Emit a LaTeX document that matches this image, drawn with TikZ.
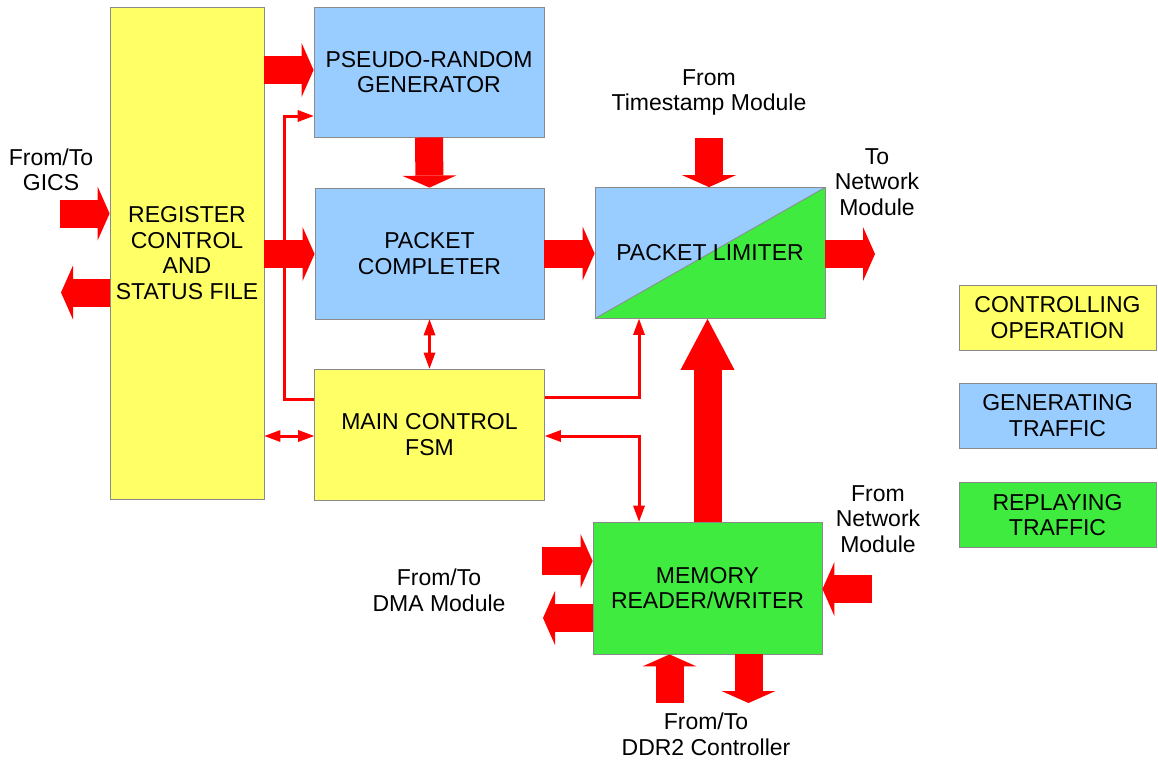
\documentclass[tikz,border=0pt]{standalone}
\usepackage{fontspec}
\setmainfont{Liberation Sans}
\usetikzlibrary{arrows.meta,calc}
\definecolor{ctlyellow}{HTML}{FFFF66}
\definecolor{genblue}{HTML}{99CCFF}
\definecolor{repgreen}{HTML}{3FEB3F}
\definecolor{boxedge}{HTML}{8A8A8A}
\definecolor{sigred}{HTML}{FF0000}

\begin{document}
\begin{tikzpicture}[x=1pt,y=-1pt,
  font=\fontsize{23}{25.5}\selectfont,
  block/.style={draw=boxedge, line width=0.8pt, align=center, inner sep=0pt},
  ctlblock/.style={block, fill=ctlyellow},
  genblock/.style={block, fill=genblue},
  repblock/.style={block, fill=repgreen},
  label/.style={align=center, inner sep=0pt},
  fat/.style={draw=sigred, line width=28pt,
    -{Triangle[length=12pt 0 0, width=54pt 0 0, line width=0pt]}},
  fatlong/.style={draw=sigred, line width=28pt,
    -{Triangle[length=51pt 0 0, width=54pt 0 0, line width=0pt]}},
  sig/.style={draw=sigred, line width=3pt},
  tipS/.tip={Triangle[length=16pt 0 0, width=12pt 0 0, line width=0pt]},
]
\useasboundingbox (0,0) rectangle (1158,760);

% functional blocks
\node[ctlblock, minimum width=154pt, minimum height=492pt] (reg) at (187,253)
  {REGISTER\\CONTROL\\AND\\STATUS FILE};
\node[genblock, minimum width=230pt, minimum height=130pt] (prg) at (429,72) {};
\node[label] at (429,72) {PSEUDO-RANDOM\\GENERATOR};
\node[genblock, minimum width=229pt, minimum height=131pt] (pc) at (429.5,253.5)
  {PACKET\\COMPLETER};
\node[ctlblock, minimum width=230pt, minimum height=131pt] (fsm) at (429.5,434.5)
  {MAIN CONTROL\\FSM};
\node[block, minimum width=230pt, minimum height=131pt,
  path picture={
    \fill[genblue] (path picture bounding box.south west) -- (path picture bounding box.north west)
      -- (path picture bounding box.north east) -- cycle;
    \fill[repgreen] (path picture bounding box.south west) -- (path picture bounding box.north east)
      -- (path picture bounding box.south east) -- cycle;
    \draw[boxedge, line width=0.8pt] (path picture bounding box.south west)
      -- (path picture bounding box.north east);
  }] (pl) at (710,253) {};
\node[label] at (710,253) {PACKET LIMITER};
\node[repblock, minimum width=229pt, minimum height=132pt] (mem) at (707.5,588)
  {MEMORY\\READER/WRITER};

% legend
\node[ctlblock, minimum width=197pt, minimum height=65pt] (lgctl) at (1057.5,317.5)
  {CONTROLLING\\OPERATION};
\node[genblock, minimum width=197pt, minimum height=65pt] (lggen) at (1057.5,415.5)
  {GENERATING\\TRAFFIC};
\node[repblock, minimum width=197pt, minimum height=65pt] (lgrep) at (1057.5,515)
  {REPLAYING\\TRAFFIC};

% external interface labels
\node[label] (tgics) at (51,170) {From/To\\GICS};
\node[label] (tts) at (709,92.5) {From\\Timestamp Module};
\node[label] (tnetout) at (877,182) {To\\Network\\Module};
\node[label] (tnetin) at (878,519) {From\\Network\\Module};
\node[label] (tdma) at (439,590.5) {From/To\\DMA Module};
\node[label] (tddr) at (706,734.5) {From/To\\DDR2 Controller};

% free ends of the data paths
\coordinate (gicsIn) at (60,213.5);
\coordinate (gicsOut) at (61,292.5);
\coordinate (tsIn) at (709,138);
\coordinate (netOut) at (875,254);
\coordinate (dmaIn) at (542,561);
\coordinate (dmaOut) at (543,618);
\coordinate (netIn) at (872,589);
\coordinate (ddrIn) at (669.5,703);
\coordinate (ddrOut) at (748.5,703);
\coordinate (loopX) at (284,0);
\coordinate (busX) at (639,0);

% wide data paths
\draw[fat] (gicsIn) -- (gicsIn -| reg.west);
\draw[fat] (gicsOut -| reg.west) -- (gicsOut);
\draw[fat] (reg.east |- 0,70) -- (prg.west |- 0,70);
\draw[fat] (reg.east |- 0,254) -- (pc.west |- 0,254);
\draw[fat] (prg.south) -- (pc.north);
\draw[fat] (pc.east) -- (pc.east -| pl.west);
\draw[fat] (tsIn) -- (tsIn |- pl.north);
\draw[fat] (netOut -| pl.east) -- (netOut);
\draw[fatlong] (mem.north) -- (mem.north |- pl.south);
\draw[fat] (dmaIn) -- (dmaIn -| mem.west);
\draw[fat] (dmaOut -| mem.west) -- (dmaOut);
\draw[fat] (netIn) -- (netIn -| mem.east);
\draw[fat] (ddrIn) -- (ddrIn |- mem.south);
\draw[fat] (ddrOut |- mem.south) -- (ddrOut);

% control signals
\draw[sig, -tipS] (fsm.west |- 0,399) -| (loopX |- 0,116) -- (prg.west |- 0,116);
\draw[sig, tipS-tipS] (pc.south) -- (fsm.north);
\draw[sig, tipS-tipS] (reg.east |- 0,436) -- (fsm.west |- 0,436);
\draw[sig, -tipS] (fsm.east |- 0,397) -| (busX |- pl.south);
\draw[sig, tipS-tipS] (fsm.east |- 0,436) -| (busX |- mem.north);
\end{tikzpicture}
\end{document}
